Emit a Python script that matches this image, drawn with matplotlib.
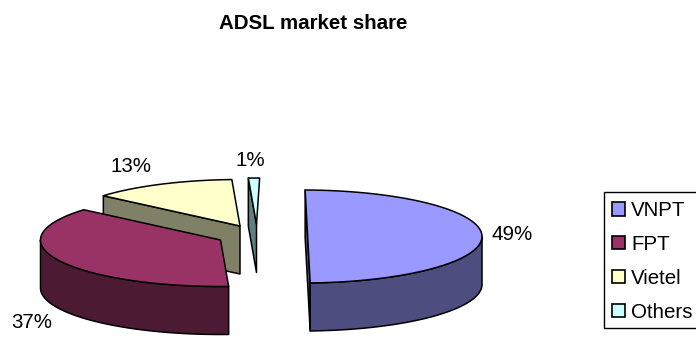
import numpy as np
import matplotlib
matplotlib.use("Agg")
import matplotlib.pyplot as plt
from matplotlib.patches import Polygon, Patch, Rectangle

# Chart data
categories = ["VNPT", "FPT", "Vietel", "Others"]
shares = [49, 37, 13, 1]
top_colors = ["#9999FF", "#993366", "#FFFFCC", "#CCFFFF"]
side_colors = ["#4D4D80", "#4D1A33", "#808066", "#608080"]

# Projected pie geometry, in pixels
centers = [(302, 236.5), (220.5, 240), (240, 226), (256.5, 224.5)]
label_xy = [(512, 235), (32, 322), (131, 167), (250, 160)]
FIRST_ANGLE = 1.0
RX, RY, DEPTH = 180, 46.5, 48
EDGE = 1.1

plt.rcParams["font.family"] = ["Liberation Sans", "DejaVu Sans"]
fig = plt.figure(figsize=(6.96, 3.37), dpi=100)
ax = fig.add_axes([0, 0, 1, 1])
ax.set_xlim(0, 696)
ax.set_ylim(337, 0)
ax.axis("off")


def rim(center, angles):
    """Rim points of the tilted pie; angles run clockwise from 12 o'clock."""
    t = np.radians(angles)
    return np.column_stack([center[0] + RX * np.sin(t), center[1] - RY * np.cos(t)])


def add_face(points, color, z):
    ax.add_patch(Polygon(points, closed=True, facecolor=color, edgecolor="black",
                         linewidth=EDGE, joinstyle="round", zorder=z))


def extrude(points, color, z):
    pts = np.asarray(points)
    lower = pts[::-1] + [0, DEPTH]
    add_face(np.vstack([pts, lower]), color, z)


edges = FIRST_ANGLE + np.concatenate([[0], np.cumsum(shares)]) * 3.6
# Back slices are painted first so the nearer ones cover them
for i in reversed(range(len(shares))):
    start, end = edges[i], edges[i + 1]
    c = np.array(centers[i])
    z = 10 - i
    if end - start > 170:
        # A nearly half slice: its two cut faces read as one flat wall
        extrude(rim(c, np.array([start, end])), side_colors[i], z)
    else:
        if 180 < start < 360:
            extrude(np.vstack([rim(c, np.array([start])), c]), side_colors[i], z)
        if 0 < end < 180:
            extrude(np.vstack([c, rim(c, np.array([end]))]), side_colors[i], z)
    lo, hi = max(start, 90), min(end, 270)
    if hi > lo:
        extrude(rim(c, np.linspace(lo, hi, 80)), side_colors[i], z)
    top = rim(c, np.linspace(start, end, 120))
    if end - start <= 170:
        top = np.vstack([top, c])
    add_face(top, top_colors[i], z)
    ax.text(*label_xy[i], f"{shares[i]}%", fontsize=14.8, ha="center", va="center",
            color="black", zorder=20)

ax.text(313, 23.5, "ADSL market share", fontsize=14.8, fontweight="bold",
        ha="center", va="center", color="black")

# Legend box and its entries
ax.add_patch(Rectangle((604, 191.5), 95, 136.5, facecolor="white", edgecolor="black",
                       linewidth=1.0, zorder=15))
handles = [Patch(facecolor=col, edgecolor="black", linewidth=1.2) for col in top_colors]
leg = ax.legend(handles, categories, loc="upper left",
                bbox_to_anchor=(606 / 696, 1 - 195 / 337), borderaxespad=0,
                frameon=False, fontsize=14.8, handlelength=0.62, handleheight=0.62,
                handletextpad=0.3, labelspacing=0.72, borderpad=0.3)
leg.set_zorder(16)

fig.savefig("out.png", dpi=100)
